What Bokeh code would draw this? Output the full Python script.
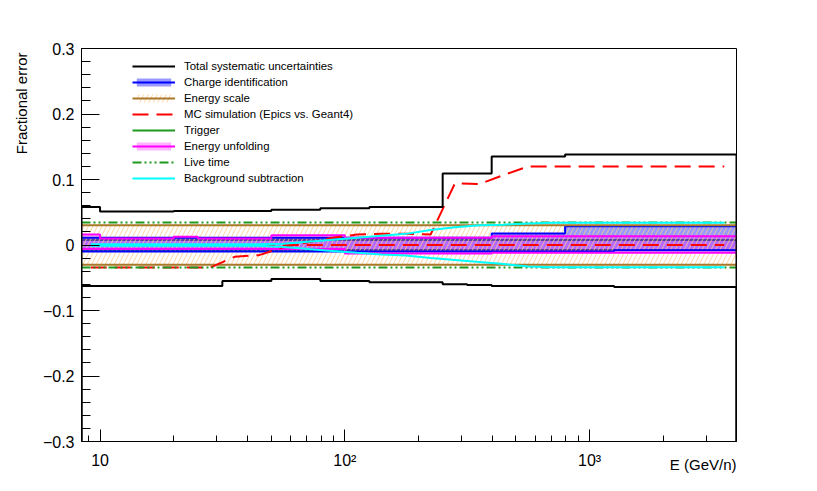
from math import sqrt
from bokeh.plotting import figure
from bokeh.models import (FixedTicker, Legend, LegendItem, Range1d, Title,
                          CustomJSTickFormatter)
from bokeh.embed import file_html
from bokeh.resources import INLINE

# ---------------- data ----------------
edges = [8.4, 10, 12.6, 15.8, 20, 25.1, 31.6, 39.8, 50.1, 63.1, 79.4, 100, 126,
         158, 200, 251, 316, 398, 501, 631, 794, 1000, 1259, 1585, 1995, 2512,
         3162, 3981]

total_up = [0.058, 0.051, 0.051, 0.051, 0.052, 0.052, 0.052, 0.052, 0.054, 0.054,
            0.056, 0.056, 0.058, 0.058, 0.058, 0.109, 0.109, 0.135, 0.135, 0.135,
            0.138, 0.138, 0.138, 0.138, 0.138, 0.138, 0.138]
total_lo = [-0.0625, -0.0625, -0.0625, -0.0625, -0.0625, -0.0625, -0.055, -0.055,
            -0.052, -0.052, -0.055, -0.055, -0.057, -0.057, -0.057, -0.060, -0.061,
            -0.0625, -0.0625, -0.0625, -0.0625, -0.0625, -0.064, -0.064, -0.064,
            -0.064, -0.064]

charge_up = [0.011, 0.011, 0.011, 0.011, 0.011, 0.011, 0.011, 0.011, 0.011, 0.011,
             0.011, 0.011, 0.011, 0.011, 0.011, 0.011, 0.011, 0.0175, 0.0175, 0.0175,
             0.0285, 0.0285, 0.0285, 0.0285, 0.0285, 0.0285, 0.0285]
charge_lo = [-0.010, -0.010, -0.010, -0.010, -0.010, -0.010, -0.010, -0.010, -0.010,
             -0.010, -0.010, -0.010, -0.010, -0.010, -0.010, -0.010, -0.010, -0.010,
             -0.010, -0.010, -0.010, -0.010, -0.008, -0.008, -0.008, -0.008, -0.008]

escale_up = [0.030, 0.030, 0.030, 0.030, 0.030, 0.030, 0.030, 0.030, 0.030, 0.030,
             0.030, 0.030, 0.030, 0.030, 0.030, 0.030, 0.030, 0.030, 0.030, 0.030,
             0.030, 0.030, 0.030, 0.030, 0.030, 0.030, 0.030]
escale_lo = [-0.030, -0.030, -0.030, -0.030, -0.030, -0.030, -0.030, -0.030, -0.030,
             -0.030, -0.030, -0.030, -0.030, -0.030, -0.030, -0.030, -0.030, -0.030,
             -0.030, -0.030, -0.030, -0.030, -0.030, -0.030, -0.030, -0.030, -0.030]

mc_sim = [-0.0345, -0.0345, -0.0345, -0.0345, -0.0345, -0.0345, -0.018, -0.0155,
          -0.003, 0.004, 0.011, 0.016, 0.017, 0.017, 0.016, 0.094, 0.093, 0.107,
          0.120, 0.120, 0.120, 0.120, 0.120, 0.120, 0.120, 0.120, 0.120]
mc_ref = [0.0, 0.0, 0.0, 0.0, 0.0, 0.0, 0.0, 0.0, 0.0, 0.0, 0.0, 0.0, 0.0, 0.0,
          0.0, 0.0, 0.0, 0.0, 0.0, 0.0, 0.0, 0.0, 0.0, 0.0, 0.0, 0.0, 0.0]

trigger_up = [0.0075, 0.0075, 0.0075, 0.0075, 0.0075, 0.0075, 0.0075, 0.0075, 0.0075,
              0.0075, 0.0075, 0.0075, 0.0075, 0.0075, 0.0075, 0.0075, 0.0075, 0.0075,
              0.0075, 0.0075, 0.0075, 0.0075, 0.0075, 0.0075, 0.0075, 0.0075, 0.0075]
trigger_lo = [-0.0075, -0.0075, -0.0075, -0.0075, -0.0075, -0.0075, -0.0075, -0.0075,
              -0.0075, -0.0075, -0.0075, -0.0075, -0.0075, -0.0075, -0.0075, -0.0075,
              -0.0075, -0.0075, -0.0075, -0.0075, -0.0075, -0.0075, -0.0075, -0.0075,
              -0.0075, -0.0075, -0.0075]

unfold_up = [0.016, 0.010, 0.010, 0.010, 0.0125, 0.010, 0.010, 0.010, 0.015, 0.015,
             0.015, 0.011, 0.011, 0.011, 0.011, 0.011, 0.011, 0.0135, 0.0135, 0.0135,
             0.0135, 0.0135, 0.0135, 0.0135, 0.0135, 0.0135, 0.0135]
unfold_lo = [-0.006, -0.006, -0.006, -0.006, -0.006, -0.006, -0.006, -0.006, -0.006,
             -0.006, -0.006, -0.013, -0.013, -0.013, -0.013, -0.013, -0.013, -0.012,
             -0.012, -0.012, -0.012, -0.012, -0.012, -0.012, -0.012, -0.012, -0.012]

live_up = [0.0345, 0.0345, 0.0345, 0.0345, 0.0345, 0.0345, 0.0345, 0.0345, 0.0345,
           0.0345, 0.0345, 0.0345, 0.0345, 0.0345, 0.0345, 0.0345, 0.0345, 0.0345,
           0.0345, 0.0345, 0.0345, 0.0345, 0.0345, 0.0345, 0.0345, 0.0345, 0.0345]
live_lo = [-0.0345, -0.0345, -0.0345, -0.0345, -0.0345, -0.0345, -0.0345, -0.0345,
           -0.0345, -0.0345, -0.0345, -0.0345, -0.0345, -0.0345, -0.0345, -0.0345,
           -0.0345, -0.0345, -0.0345, -0.0345, -0.0345, -0.0345, -0.0345, -0.0345,
           -0.0345, -0.0345, -0.0345]

bkg_up = [0.001, 0.001, 0.001, 0.001, 0.001, 0.001, 0.001, 0.001, 0.002, 0.005,
          0.008, 0.011, 0.014, 0.017, 0.023, 0.027, 0.030, 0.031, 0.033, 0.034,
          0.034, 0.034, 0.034, 0.034, 0.034, 0.034, 0.034]
bkg_lo = [-0.001, -0.001, -0.001, -0.001, -0.001, -0.001, -0.001, -0.001, -0.003,
          -0.006, -0.009, -0.012, -0.0145, -0.016, -0.020, -0.023, -0.026, -0.029,
          -0.033, -0.034, -0.034, -0.034, -0.034, -0.034, -0.034, -0.034, -0.034]

x_major = [10, 100, 1000]
x_minor = [9, 20, 30, 40, 50, 60, 70, 80, 90, 200, 300, 400, 500, 600, 700, 800,
           900, 2000, 3000]
y_major = [-0.3, -0.2, -0.1, 0.0, 0.1, 0.2, 0.3]
y_minor = [-0.28, -0.26, -0.24, -0.22, -0.18, -0.16, -0.14, -0.12, -0.08, -0.06,
           -0.04, -0.02, 0.02, 0.04, 0.06, 0.08, 0.12, 0.14, 0.16, 0.18, 0.22,
           0.24, 0.26, 0.28]
Y_MIN, Y_MAX = -0.3, 0.3

X_TITLE = "E (GeV/n)"
Y_TITLE = "Fractional error"

FONT = "Liberation Sans"
W, H = 808, 483

# ---------------- helpers ----------------
lefts = edges[:-1]
rights = edges[1:]
centers = [sqrt(a * b) for a, b in zip(lefts, rights)]


def step_xy(vals, baseline=None):
    xs, ys = [], []
    for i, v in enumerate(vals):
        xs += [edges[i], edges[i + 1]]
        ys += [v, v]
    if baseline is not None:
        xs = [edges[0]] + xs + [edges[-1]]
        ys = [baseline] + ys + [baseline]
    return xs, ys


# ---------------- figure ----------------
p = figure(width=W, height=H, x_axis_type="log",
           x_range=Range1d(edges[0], edges[-1]), y_range=Range1d(Y_MIN, Y_MAX),
           output_backend="svg", toolbar_location=None,
           min_border_left=81, min_border_right=72, min_border_top=48,
           min_border_bottom=42)
p.grid.visible = False
p.outline_line_color = "black"
p.outline_line_width = 1
p.background_fill_color = "white"
p.border_fill_color = "white"

BLUE = "#0000ff"
MAG = "#ff00ff"
BROWN = "#a87828"
GREEN = "#1f9a1f"
RED = "#ff0000"
CYAN = "#00ffff"

# trigger (under the fills)
xs, ys = step_xy(trigger_up)
r_trig = p.line(xs, ys, line_color=GREEN, line_width=2)
xs, ys = step_xy(trigger_lo)
p.line(xs, ys, line_color=GREEN, line_width=2)

# charge identification band
r_charge_fill = p.quad(left=lefts, right=rights, bottom=charge_lo, top=charge_up,
                       fill_color=BLUE, fill_alpha=0.4, line_color=None)
# energy unfolding band
r_unf_fill = p.quad(left=lefts, right=rights, bottom=unfold_lo, top=unfold_up,
                    fill_color=MAG, fill_alpha=0.3, line_color=None)
# energy scale hatched band
r_es_fill = p.quad(left=lefts, right=rights, bottom=escale_lo, top=escale_up,
                   fill_color=None, line_color=None, hatch_pattern="/",
                   hatch_color="#ffc88c", hatch_scale=9, hatch_weight=0.9,
                   hatch_alpha=0.9)

xs, ys = step_xy(charge_up)
r_charge_line = p.line(xs, ys, line_color=BLUE, line_width=2)
xs, ys = step_xy(charge_lo)
p.line(xs, ys, line_color=BLUE, line_width=2)

xs, ys = step_xy(unfold_up)
r_unf_line = p.line(xs, ys, line_color=MAG, line_width=2)
xs, ys = step_xy(unfold_lo)
p.line(xs, ys, line_color=MAG, line_width=2)

xs, ys = step_xy(escale_up)
r_es_line = p.line(xs, ys, line_color=BROWN, line_width=2)
xs, ys = step_xy(escale_lo)
p.line(xs, ys, line_color=BROWN, line_width=2)

# MC simulation
r_mc = p.line(centers, mc_sim, line_color=RED, line_width=2, line_dash="16 8")
p.line(centers, mc_ref, line_color=RED, line_width=2, line_dash="16 8")

# live time
xs, ys = step_xy(live_up)
r_live = p.line(xs, ys, line_color=GREEN, line_width=2,
                line_dash="9 3 2 3 2 3 2 3")
xs, ys = step_xy(live_lo)
p.line(xs, ys, line_color=GREEN, line_width=2, line_dash="9 3 2 3 2 3 2 3")

# background subtraction
r_bkg = p.line(centers, bkg_up, line_color=CYAN, line_width=2)
p.line(centers, bkg_lo, line_color=CYAN, line_width=2)

# total systematic
xs, ys = step_xy(total_up, baseline=Y_MIN)
r_tot = p.line(xs, ys, line_color="black", line_width=2)
xs, ys = step_xy(total_lo, baseline=Y_MIN)
p.line(xs, ys, line_color="black", line_width=2)

# ---------------- axes ----------------
p.xaxis.ticker = FixedTicker(ticks=x_major, minor_ticks=x_minor)
p.xaxis.formatter = CustomJSTickFormatter(code="""
const m = {10: "10", 100: "10\u00b2", 1000: "10\u00b3"};
const k = Math.round(tick);
return (k in m) ? m[k] : "";
""")
p.yaxis.ticker = FixedTicker(ticks=y_major, minor_ticks=y_minor)
p.yaxis.formatter = CustomJSTickFormatter(code="""
if (Math.abs(tick) < 1e-9) return "0";
const s = Math.abs(tick).toFixed(1);
return tick < 0 ? "\u2212" + s : s;
""")
xax = p.xaxis[0]
yax = p.yaxis[0]
for ax in (xax, yax):
    ax.axis_line_color = "black"
    ax.axis_line_width = 1
    ax.major_tick_out = 0
    ax.minor_tick_out = 0
    ax.major_tick_line_color = "black"
    ax.minor_tick_line_color = "black"
    ax.major_label_text_font = FONT
    ax.major_label_text_font_size = "16px"
    ax.major_label_text_color = "black"
    ax.axis_label = None
xax.major_tick_in = 12
xax.minor_tick_in = 6
yax.major_tick_in = 18
yax.minor_tick_in = 9
xax.major_label_standoff = 10
yax.major_label_standoff = 7

p.add_layout(Title(text=Y_TITLE, align="right", vertical_align="bottom",
                   text_font=FONT, text_font_size="15px", text_color="black",
                   text_font_style="normal", standoff=20, offset=4), "left")
p.add_layout(Title(text=X_TITLE, align="right", vertical_align="top",
                   text_font=FONT, text_font_size="15px", text_color="black",
                   text_font_style="normal", standoff=-32), "below")

# ---------------- legend ----------------
items = [
    LegendItem(label="Total systematic uncertainties", renderers=[r_tot]),
    LegendItem(label="Charge identification", renderers=[r_charge_fill, r_charge_line]),
    LegendItem(label="Energy scale", renderers=[r_es_fill, r_es_line]),
    LegendItem(label="MC simulation (Epics vs. Geant4)", renderers=[r_mc]),
    LegendItem(label="Trigger", renderers=[r_trig]),
    LegendItem(label="Energy unfolding", renderers=[r_unf_fill, r_unf_line]),
    LegendItem(label="Live time", renderers=[r_live]),
    LegendItem(label="Background subtraction", renderers=[r_bkg]),
]
legend = Legend(items=items, location=(51, 257), border_line_color=None,
                background_fill_alpha=0, padding=0, margin=0, spacing=4,
                glyph_width=43, glyph_height=10, label_height=10,
                label_standoff=9, label_text_font=FONT,
                label_text_font_size="11.4px", label_text_color="black")
p.add_layout(legend)

open("out.html", "w").write(file_html(p, INLINE))
